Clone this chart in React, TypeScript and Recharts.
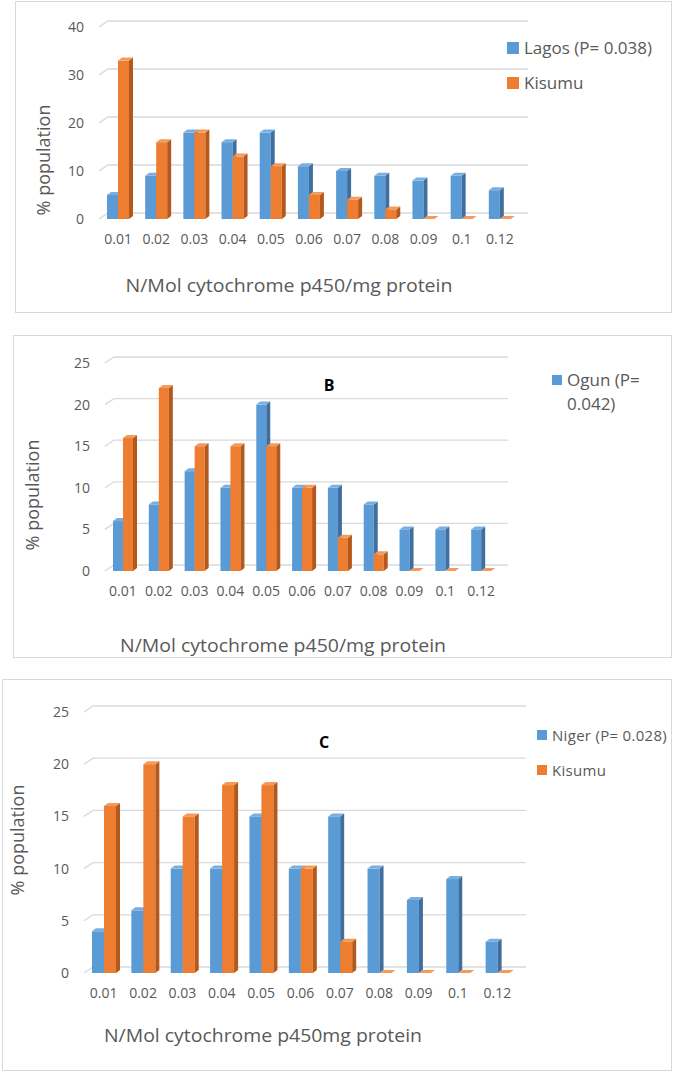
import React from 'react';
import { BarChart, Bar, XAxis, YAxis, CartesianGrid, Legend } from 'recharts';

const categories = ['0.01', '0.02', '0.03', '0.04', '0.05', '0.06', '0.07', '0.08', '0.09', '0.1', '0.12'];

// panel A
const lagos = [5, 9, 18, 16, 18, 11, 10, 9, 8, 9, 6];
const kisumuA = [33, 16, 18, 13, 11, 5, 4, 2, 0, 0, 0];
// panel B
const ogun = [6, 8, 12, 10, 20, 10, 10, 8, 5, 5, 5];
const kisumuB = [16, 22, 15, 15, 15, 10, 4, 2, 0, 0, 0];
// panel C
const niger = [4, 6, 10, 10, 15, 10, 15, 10, 7, 9, 3];
const kisumuC = [16, 20, 15, 18, 18, 10, 3, 0, 0, 0, 0];

const ticksA = [0, 10, 20, 30, 40];
const ticksBC = [0, 5, 10, 15, 20, 25];

const FONT = '"Open Sans", "Noto Sans", sans-serif';
const TEXT = '#595959';
const GRID = '#d9d9d9';
const BLUE = '#5b9bd5';
const ORANGE = '#ed7d31';

const DX = 4;
const DY = 3;

const bar3d = (side: string, top: string) => (p: any) => {
  const { x, y, width, height, fill } = p;
  if (x == null || y == null) return <g />;
  const h = Math.max(0, height || 0);
  return (
    <g>
      <rect x={x} y={y} width={width} height={h} fill={fill} />
      <polygon
        points={`${x + width},${y} ${x + width + DX},${y - DY} ${x + width + DX},${y + h - DY} ${x + width},${y + h}`}
        fill={side}
      />
      <polygon
        points={`${x},${y} ${x + DX},${y - DY} ${x + width + DX},${y - DY} ${x + width},${y}`}
        fill={top}
      />
    </g>
  );
};

const blueShape = bar3d('#3f6f9e', '#7aaee0');
const orangeShape = bar3d('#b4581c', '#f39a5c');

// back gridline with the slanted lead-in at the left end
const gridLine = (p: any) => {
  const { x1, y1, x2 } = p;
  return (
    <path
      key={`g-${y1}`}
      d={`M${x1},${y1}L${x1 + 9},${y1 - 6}L${x2 + 9},${y1 - 6}`}
      stroke={GRID}
      strokeWidth={1.3}
      fill="none"
    />
  );
};

const makeLegend = (cfg: any) => (props: any) => {
  const items = (props.payload || [])
    .filter((it: any) => it.type !== 'none')
    .slice()
    .sort((u: any, v: any) => String(u.dataKey).localeCompare(String(v.dataKey)));
  return (
    <div style={{ fontFamily: FONT, fontSize: cfg.fontSize, color: TEXT, letterSpacing: cfg.spacing || 0 }}>
      {items.map((it: any, i: number) => (
        <div key={i} style={{ display: 'flex', alignItems: 'flex-start', marginBottom: cfg.rowGap }}>
          <span
            style={{
              width: cfg.square,
              height: cfg.square,
              background: it.color,
              marginTop: (24 - cfg.square) / 2,
              marginRight: cfg.gap,
              flexShrink: 0,
            }}
          />
          <span style={{ lineHeight: '24px', width: cfg.textWidth }}>{it.value}</span>
        </div>
      ))}
    </div>
  );
};

interface PanelProps {
  box: { left: number; top: number; right: number; bottom: number };
  plot: { left: number; right: number; top: number; bottom: number };
  ticks: number[];
  first: number[];
  second: number[];
  firstName: string;
  showSecond: boolean;
  barSize: number;
  legend: { left: number; top: number; cfg: any };
  yLabel: { x: number; y: number };
  xLabel: { x: number; y: number; text: string; len: number };
  letter?: { x: number; y: number; text: string };
}

function Panel(p: PanelProps) {
  const T = p.box.top;
  const H = p.box.bottom - p.box.top;
  const data = categories.map((c, i) => ({ cat: c, a: p.first[i], b: p.second[i] }));
  const xh = 30;
  const yw = 40;
  const margin = {
    top: p.plot.top - T,
    bottom: p.box.bottom - p.plot.bottom - xh,
    left: p.plot.left - yw,
    right: 675 - p.plot.right,
  };
  const tickStyle = { fontFamily: FONT, fontSize: 14, fill: TEXT };
  return (
    <>
      <div
        style={{
          position: 'absolute',
          left: p.box.left,
          top: p.box.top,
          width: p.box.right - p.box.left,
          height: p.box.bottom - p.box.top,
          border: `1px solid ${GRID}`,
          boxSizing: 'border-box',
        }}
      />
      {p.letter && (
        <div
          style={{
            position: 'absolute',
            left: p.letter.x - 20,
            top: p.letter.y - 12,
            width: 40,
            height: 24,
            lineHeight: '24px',
            textAlign: 'center',
            fontFamily: FONT,
            fontWeight: 700,
            fontSize: 16,
            color: '#000',
          }}
        >
          {p.letter.text}
        </div>
      )}
      <div style={{ position: 'absolute', left: 0, top: T }}>
        <BarChart width={675} height={H} data={data} margin={margin} barGap={0} barSize={p.barSize}>
          <CartesianGrid vertical={false} horizontal={gridLine} />
          <XAxis
            dataKey="cat"
            height={xh}
            axisLine={false}
            tickLine={false}
            tickSize={6}
            tickMargin={9}
            interval={0}
            tick={tickStyle}
            label={() => (
              <text
                x={p.xLabel.x}
                y={p.xLabel.y - T}
                textAnchor="middle"
                dominantBaseline="central"
                fontFamily={FONT}
                fontSize={18}
                fill={TEXT}
                textLength={p.xLabel.len}
                lengthAdjust="spacingAndGlyphs"
              >
                {p.xLabel.text}
              </text>
            )}
          />
          <YAxis
            width={yw}
            domain={[p.ticks[0], p.ticks[p.ticks.length - 1]]}
            ticks={p.ticks}
            axisLine={false}
            tickLine={false}
            tickSize={6}
            tickMargin={9}
            tick={tickStyle}
            label={() => (
              <text
                x={p.yLabel.x}
                y={p.yLabel.y - T}
                transform={`rotate(-90 ${p.yLabel.x} ${p.yLabel.y - T})`}
                textAnchor="middle"
                dominantBaseline="central"
                fontFamily={FONT}
                fontSize={18}
                fill={TEXT}
              >
                % population
              </text>
            )}
          />
          <Legend
            layout="vertical"
            align="center"
            verticalAlign="middle"
            content={makeLegend(p.legend.cfg)}
            wrapperStyle={{ left: p.legend.left, top: p.legend.top - T, width: 675 - p.legend.left - 4 }}
          />
          <Bar dataKey="a" name={p.firstName} fill={BLUE} shape={blueShape} isAnimationActive={false} />
          <Bar
            dataKey="b"
            name="Kisumu"
            fill={ORANGE}
            shape={orangeShape}
            legendType={p.showSecond ? 'square' : 'none'}
            isAnimationActive={false}
          />
        </BarChart>
      </div>
    </>
  );
}

export default function App() {
  return (
    <div
      style={{
        position: 'absolute',
        left: 0,
        top: 0,
        width: 675,
        height: 1073,
        background: '#fff',
        fontFamily: FONT,
      }}
    >
      <Panel
        box={{ left: 15, top: 1, right: 672, bottom: 313 }}
        plot={{ left: 99, right: 519, top: 27, bottom: 219 }}
        ticks={ticksA}
        first={lagos}
        second={kisumuA}
        firstName="Lagos (P= 0.038)"
        showSecond
        barSize={11}
        legend={{ left: 507, top: 36, cfg: { fontSize: 17, square: 12, gap: 5, rowGap: 11, textWidth: 145 } }}
        yLabel={{ x: 43, y: 160 }}
        xLabel={{ x: 289, y: 285, text: 'N/Mol cytochrome p450/mg protein', len: 327 }}
      />
      <Panel
        box={{ left: 13, top: 335, right: 672, bottom: 658 }}
        plot={{ left: 105, right: 499, top: 363, bottom: 571 }}
        ticks={ticksBC}
        first={ogun}
        second={kisumuB}
        firstName="Ogun (P= 0.042)"
        showSecond={false}
        barSize={10}
        legend={{ left: 552, top: 368, cfg: { fontSize: 17, square: 10, gap: 5, rowGap: 11, textWidth: 80 } }}
        yLabel={{ x: 32, y: 495 }}
        xLabel={{ x: 283, y: 645, text: 'N/Mol cytochrome p450/mg protein', len: 326 }}
        letter={{ x: 329, y: 385, text: 'B' }}
      />
      <Panel
        box={{ left: 2, top: 679, right: 672, bottom: 1071 }}
        plot={{ left: 84, right: 517, top: 712, bottom: 973 }}
        ticks={ticksBC}
        first={niger}
        second={kisumuC}
        firstName="Niger (P= 0.028)"
        showSecond
        barSize={12}
        legend={{ left: 537, top: 723, cfg: { fontSize: 15, square: 10, gap: 5, rowGap: 11, textWidth: 125, spacing: 0.3 } }}
        yLabel={{ x: 17, y: 840 }}
        xLabel={{ x: 263, y: 1035, text: 'N/Mol cytochrome p450mg protein', len: 318 }}
        letter={{ x: 324, y: 742, text: 'C' }}
      />
    </div>
  );
}
